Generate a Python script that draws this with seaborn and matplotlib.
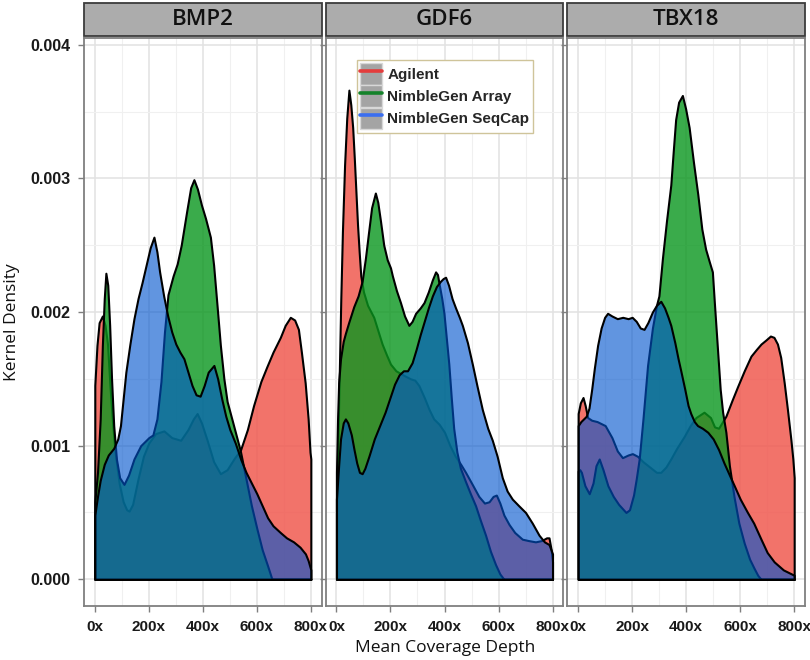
import numpy as np
import pandas as pd
import matplotlib
matplotlib.use("Agg")
import matplotlib.pyplot as plt
import seaborn as sns
from matplotlib.patches import Rectangle, Patch
from matplotlib.lines import Line2D
from matplotlib.legend_handler import HandlerTuple

genes = ["BMP2", "GDF6", "TBX18"]
platforms = ["Agilent", "NimbleGen Array", "NimbleGen SeqCap"]
x_ticks = [0, 200, 400, 600, 800]
y_ticks = [0.0, 0.001, 0.002, 0.003, 0.004]

# kernel density curves (depth in x, density in units of 1e-3)
bmp2_agilent_x = [0, 8, 16, 28, 38, 47, 56, 65, 75, 90, 105, 118, 127, 140, 160, 180, 200, 225, 256, 285, 318, 345, 365, 379, 395, 416, 440, 465, 490, 515, 540, 565, 588, 615, 637, 660, 687, 705, 724, 740, 754, 765, 779, 790, 797, 800]
bmp2_agilent_y = [1.45, 1.75, 1.92, 1.97, 1.9, 1.76, 1.45, 1.19, 0.95, 0.72, 0.58, 0.52, 0.51, 0.56, 0.75, 0.92, 1.02, 1.09, 1.11, 1.06, 1.04, 1.12, 1.2, 1.24, 1.17, 1.04, 0.88, 0.79, 0.82, 0.9, 0.97, 1.12, 1.3, 1.48, 1.59, 1.7, 1.81, 1.9, 1.96, 1.94, 1.87, 1.7, 1.47, 1.2, 0.95, 0.9]
bmp2_array_x = [0, 10, 20, 28, 35, 41, 48, 55, 62, 70, 80, 92, 108, 125, 145, 170, 200, 215, 230, 245, 258, 271, 290, 305, 320, 340, 355, 367, 380, 395, 410, 428, 440, 453, 465, 478, 490, 510, 539, 560, 580, 600, 620, 640, 656, 800]
bmp2_array_y = [0.58, 0.8, 1.2, 1.75, 2.1, 2.29, 2.2, 1.9, 1.5, 1.15, 0.9, 0.76, 0.71, 0.78, 0.9, 1.0, 1.06, 1.08, 1.2, 1.48, 1.85, 2.13, 2.27, 2.36, 2.5, 2.75, 2.93, 2.99, 2.92, 2.8, 2.7, 2.56, 2.35, 2.04, 1.75, 1.5, 1.33, 1.18, 0.96, 0.75, 0.55, 0.38, 0.22, 0.1, 0.0, 0.0]
bmp2_seqcap_x = [0, 10, 20, 35, 50, 70, 85, 95, 105, 115, 130, 145, 160, 175, 190, 205, 219, 230, 240, 255, 270, 285, 300, 315, 330, 345, 360, 375, 390, 405, 420, 441, 455, 470, 485, 500, 520, 540, 560, 580, 600, 620, 640, 660, 687, 710, 736, 760, 780, 790, 800]
bmp2_seqcap_y = [0.48, 0.62, 0.74, 0.86, 0.93, 0.98, 1.05, 1.15, 1.35, 1.55, 1.76, 1.95, 2.1, 2.22, 2.35, 2.48, 2.56, 2.45, 2.3, 2.12, 1.97, 1.85, 1.76, 1.7, 1.65, 1.55, 1.45, 1.38, 1.37, 1.45, 1.55, 1.6, 1.5, 1.35, 1.22, 1.12, 1.02, 0.9, 0.8, 0.72, 0.64, 0.55, 0.46, 0.4, 0.35, 0.31, 0.28, 0.24, 0.19, 0.14, 0.07]

gdf6_agilent_x = [0, 5, 10, 16, 22, 30, 38, 46, 53, 60, 66, 72, 78, 84, 90, 100, 115, 138, 155, 169, 185, 200, 220, 237, 255, 274, 290, 305, 325, 343, 360, 380, 400, 420, 440, 460, 478, 500, 527, 548, 565, 580, 592, 605, 620, 639, 660, 688, 710, 737, 760, 778, 787, 795, 800]
gdf6_agilent_y = [0.6, 1.0, 1.5, 2.1, 2.6, 3.1, 3.45, 3.66, 3.55, 3.38, 3.15, 2.9, 2.65, 2.45, 2.27, 2.15, 2.05, 1.96, 1.85, 1.76, 1.68, 1.61, 1.56, 1.54, 1.52, 1.5, 1.49, 1.45, 1.36, 1.27, 1.2, 1.16, 1.1, 1.0, 0.92, 0.86, 0.8, 0.72, 0.62, 0.57, 0.58, 0.62, 0.63, 0.57, 0.48, 0.41, 0.35, 0.3, 0.29, 0.28, 0.29, 0.31, 0.31, 0.22, 0.13]
gdf6_array_x = [0, 4, 8, 15, 25, 33, 45, 64, 80, 95, 107, 119, 130, 144, 153, 163, 175, 188, 200, 207, 222, 237, 252, 268, 280, 293, 310, 324, 340, 355, 367, 374, 380, 390, 398, 407, 416, 425, 434, 446, 459, 478, 496, 515, 533, 552, 570, 589, 605, 620, 800]
gdf6_array_y = [0.8, 1.2, 1.47, 1.65, 1.78, 1.84, 1.92, 2.04, 2.12, 2.23, 2.4, 2.6, 2.78, 2.89, 2.82, 2.68, 2.5, 2.39, 2.33, 2.27, 2.16, 2.07, 1.97, 1.9, 1.93, 1.99, 2.03, 2.07, 2.15, 2.24, 2.3, 2.28, 2.21, 2.1, 1.99, 1.8, 1.61, 1.36, 1.13, 0.95, 0.83, 0.73, 0.64, 0.55, 0.44, 0.33, 0.21, 0.11, 0.04, 0.0, 0.0]
gdf6_seqcap_x = [0, 8, 15, 25, 33, 42, 55, 65, 75, 85, 95, 105, 120, 140, 160, 180, 200, 215, 232, 248, 263, 280, 295, 310, 325, 340, 355, 370, 385, 395, 404, 415, 428, 441, 455, 466, 485, 503, 520, 540, 560, 577, 595, 614, 632, 651, 675, 700, 725, 750, 770, 787, 800]
gdf6_seqcap_y = [0.6, 0.85, 1.05, 1.17, 1.2, 1.17, 1.08, 0.97, 0.87, 0.8, 0.79, 0.83, 0.92, 1.05, 1.15, 1.25, 1.37, 1.46, 1.53, 1.56, 1.56, 1.62, 1.72, 1.83, 1.93, 2.03, 2.12, 2.19, 2.23, 2.25, 2.26, 2.2, 2.1, 2.03, 1.96, 1.9, 1.77, 1.61, 1.45, 1.27, 1.13, 1.04, 0.92, 0.76, 0.66, 0.6, 0.55, 0.5, 0.42, 0.33, 0.28, 0.26, 0.19]

tbx18_agilent_x = [0, 8, 18, 26, 35, 50, 70, 100, 125, 145, 164, 185, 201, 220, 240, 265, 290, 306, 325, 343, 365, 393, 415, 436, 466, 490, 505, 520, 535, 547, 570, 590, 615, 640, 660, 677, 695, 712, 725, 738, 750, 763, 775, 788, 795, 800]
tbx18_agilent_y = [1.24, 1.32, 1.36, 1.3, 1.21, 1.19, 1.18, 1.15, 1.06, 0.96, 0.91, 0.93, 0.94, 0.92, 0.88, 0.84, 0.8, 0.8, 0.84, 0.9, 0.98, 1.07, 1.15, 1.21, 1.25, 1.21, 1.14, 1.13, 1.18, 1.22, 1.34, 1.44, 1.56, 1.67, 1.72, 1.76, 1.79, 1.82, 1.81, 1.76, 1.66, 1.47, 1.27, 1.04, 0.9, 0.76]
tbx18_array_x = [0, 6, 12, 25, 41, 55, 66, 78, 92, 110, 130, 150, 177, 190, 205, 215, 226, 240, 257, 275, 290, 299, 312, 327, 343, 352, 361, 372, 386, 398, 411, 427, 443, 458, 472, 485, 497, 505, 516, 526, 535, 547, 560, 577, 595, 615, 635, 652, 665, 677, 800]
tbx18_array_y = [0.81, 0.82, 0.8, 0.7, 0.64, 0.72, 0.85, 0.9, 0.82, 0.7, 0.62, 0.56, 0.5, 0.52, 0.63, 0.75, 0.9, 1.2, 1.6, 1.88, 2.05, 2.12, 2.4, 2.68, 2.95, 3.2, 3.44, 3.57, 3.62, 3.52, 3.38, 3.12, 2.88, 2.62, 2.47, 2.38, 2.3, 2.05, 1.72, 1.42, 1.25, 1.1, 0.85, 0.62, 0.42, 0.27, 0.15, 0.08, 0.03, 0.0, 0.0]
tbx18_seqcap_x = [0, 10, 20, 30, 40, 50, 60, 72, 85, 98, 109, 125, 145, 165, 185, 200, 215, 230, 244, 258, 275, 290, 306, 320, 333, 343, 358, 370, 380, 395, 407, 417, 430, 442, 460, 480, 500, 520, 540, 560, 578, 600, 627, 650, 677, 700, 726, 760, 800]
tbx18_seqcap_y = [1.15, 1.18, 1.2, 1.22, 1.28, 1.42, 1.58, 1.75, 1.88, 1.96, 1.99, 1.97, 1.95, 1.96, 1.95, 1.96, 1.93, 1.88, 1.87, 1.92, 2.0, 2.05, 2.08, 2.03, 1.96, 1.9, 1.77, 1.65, 1.56, 1.42, 1.3, 1.24, 1.18, 1.15, 1.13, 1.1, 1.05, 0.97, 0.87, 0.78, 0.7, 0.6, 0.5, 0.42, 0.3, 0.2, 0.13, 0.07, 0.03]

curves = {
    ("BMP2", "Agilent"): (bmp2_agilent_x, bmp2_agilent_y),
    ("BMP2", "NimbleGen Array"): (bmp2_array_x, bmp2_array_y),
    ("BMP2", "NimbleGen SeqCap"): (bmp2_seqcap_x, bmp2_seqcap_y),
    ("GDF6", "Agilent"): (gdf6_agilent_x, gdf6_agilent_y),
    ("GDF6", "NimbleGen Array"): (gdf6_array_x, gdf6_array_y),
    ("GDF6", "NimbleGen SeqCap"): (gdf6_seqcap_x, gdf6_seqcap_y),
    ("TBX18", "Agilent"): (tbx18_agilent_x, tbx18_agilent_y),
    ("TBX18", "NimbleGen Array"): (tbx18_array_x, tbx18_array_y),
    ("TBX18", "NimbleGen SeqCap"): (tbx18_seqcap_x, tbx18_seqcap_y),
}

rows = []
for (gene, plat), (xs, ys) in curves.items():
    for xv, yv in zip(xs, ys):
        rows.append({"gene": gene, "platform": plat, "depth": xv, "density": yv * 1e-3})
df = pd.DataFrame(rows)

fill_colors = {
    "Agilent": (240 / 255, 90 / 255, 80 / 255, 0.85),
    "NimbleGen Array": (9 / 255, 150 / 255, 30 / 255, 0.8),
    "NimbleGen SeqCap": (0 / 255, 84 / 255, 205 / 255, 0.62),
}
key_colors = {"Agilent": "#e43c3c", "NimbleGen Array": "#14822a", "NimbleGen SeqCap": "#3a6ef0"}

sns.set_theme(style="whitegrid")
plt.rcParams["font.family"] = ["Liberation Sans", "DejaVu Sans"]


def draw_density(data, **kws):
    ax = plt.gca()
    for plat in platforms:
        sub = data[data["platform"] == plat]
        ax.fill_between(sub["depth"], sub["density"], 0, facecolor=fill_colors[plat],
                        edgecolor="black", linewidth=1.5, joinstyle="round")


g = sns.FacetGrid(df, col="gene", col_order=genes, sharex=True, sharey=True, despine=False)
g.map_dataframe(draw_density)
g.figure.set_size_inches(8.1, 6.6)
g.figure.subplots_adjust(left=84 / 810, right=805 / 810, bottom=1 - 606 / 660, top=1 - 38 / 660, wspace=0.017)
g.set_titles("")
g.set_axis_labels("", "")

for ax, gene in zip(g.axes.flat, genes):
    ax.set_xlim(-40, 840)
    ax.set_ylim(-0.0002, 0.00405)
    ax.set_xticks(x_ticks)
    ax.set_xticklabels([f"{t}x" for t in x_ticks])
    ax.set_xticks([100, 300, 500, 700], minor=True)
    ax.set_yticks(y_ticks)
    ax.set_yticklabels([f"{t:.3f}" for t in y_ticks])
    ax.set_yticks(np.arange(0.0005, 0.004, 0.001), minor=True)
    ax.set_axisbelow(True)
    ax.grid(which="major", color="#e2e2e2", linewidth=1.1)
    ax.grid(which="minor", color="#f0f0f0", linewidth=0.8)
    ax.tick_params(which="major", length=4, width=1, color="#7f7f7f", labelsize=11.5, pad=6)
    ax.tick_params(axis="x", labelsize=11)
    ax.tick_params(which="minor", length=0)
    ax.tick_params(axis="y", left=True)
    ax.tick_params(axis="x", bottom=True)
    plt.setp(ax.get_xticklabels(), fontweight="bold", color="#1a1a1a")
    plt.setp(ax.get_yticklabels(), fontweight="bold", color="#1a1a1a")
    for sp in ax.spines.values():
        sp.set_color("#7f7f7f")
        sp.set_linewidth(1.3)
    # ggplot-style strip on top of each panel
    ax.add_patch(Rectangle((0, 1.004), 1, 0.058, transform=ax.transAxes, clip_on=False,
                           facecolor="#acacac", edgecolor="#3c3c3c", linewidth=1.3))
    ax.text(0.5, 1.032, gene, transform=ax.transAxes, ha="center", va="center",
            fontsize=16, family="Open Sans", fontweight="semibold", color="#111111")

handles = [(Patch(facecolor="#a4a4a4", edgecolor="#d8d8d8"), Line2D([0], [0], color=key_colors[p], lw=2.6))
           for p in platforms]
leg = g.axes.flat[1].legend(handles, platforms, handler_map={tuple: HandlerTuple(ndivide=1, pad=0)},
                            loc="upper left", bbox_to_anchor=(0.13, 0.962), borderaxespad=0,
                            prop={"weight": "bold", "size": 11},
                            handlelength=1.4, handleheight=1.8, labelspacing=0.03,
                            handletextpad=0.35, borderpad=0.25, frameon=True, fancybox=False)
leg.get_frame().set_edgecolor("#cfc49a")
leg.get_frame().set_linewidth(1.0)
leg.get_frame().set_facecolor("white")
leg.get_frame().set_alpha(1)

fig = g.figure
fig.text(445 / 810, 1 - 648 / 660, "Mean Coverage Depth", ha="center", va="center",
         fontsize=12.5, family="Open Sans", color="#111111")
fig.text(12 / 810, 1 - 322 / 660, "Kernel Density", ha="center", va="center", rotation=90,
         fontsize=12.5, family="Open Sans", color="#111111")

fig.savefig("out.png", dpi=100)
